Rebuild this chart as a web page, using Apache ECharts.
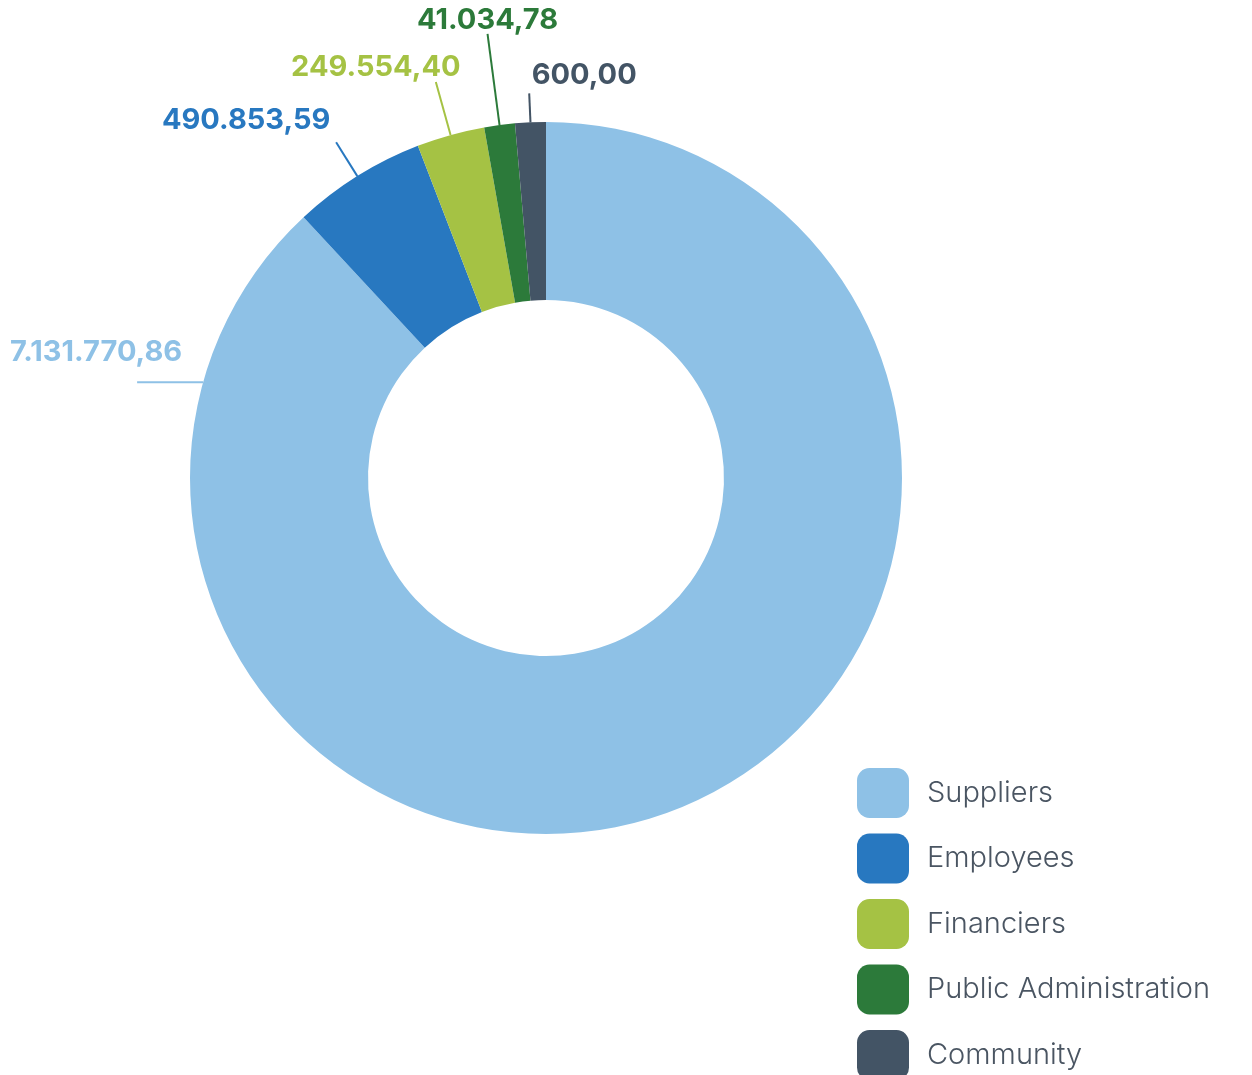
<!DOCTYPE html>
<html>
<head>
<meta charset="utf-8">
<title>Economic value distributed</title>
<script src="https://cdn.jsdelivr.net/npm/echarts@6/dist/echarts.min.js"></script>
<style>
  html, body { margin: 0; padding: 0; background: #fff; }
  #chart { width: 1252px; height: 1075px; }
</style>
</head>
<body>
<div id="chart"></div>
<script>
const categories = ['Suppliers', 'Employees', 'Financiers', 'Public Administration', 'Community'];
const amounts = [7131770.86, 490853.59, 249554.40, 41034.78, 600.00];
const colors = ['#8ec1e6', '#2878c0', '#a5c244', '#2c7a3a', '#435465'];

// pie geometry
const CX = 546, CY = 478, R_IN = 178, R_OUT = 356;

// label line lengths / label offsets, per slice
const lineLen = [66, 40, 55, 92, 29];
const labelDx = [-41, -90, -60, 0, 55];
const labelDy = [-30, -22, -15, -14, -18];

// 7131770.86 -> 7.131.770,86
const fmt = v => {
    const parts = v.toFixed(2).split('.');
    return parts[0].replace(/\B(?=(\d{3})+(?!\d))/g, '.') + ',' + parts[1];
};

const chart = echarts.init(document.getElementById('chart'), null, { renderer: 'canvas' });

chart.setOption({
    animation: false,
    color: colors,
    legend: {
        data: categories,
        orient: 'vertical',
        left: 857,
        top: 768,
        height: 400,
        padding: 0,
        itemWidth: 52,
        itemHeight: 50,
        itemGap: 15.5,
        icon: 'roundRect',
        selectedMode: false,
        textStyle: {
            fontFamily: 'Inter',
            fontWeight: 300,
            fontSize: 29,
            color: '#4a5562',
            padding: [0, 0, 0, 13]
        }
    },
    series: [{
        type: 'pie',
        center: [CX, CY],
        radius: [R_IN, R_OUT],
        startAngle: 90,
        clockwise: true,
        minAngle: 5,
        avoidLabelOverlap: false,
        emphasis: { disabled: true },
        itemStyle: { borderWidth: 0 },
        label: {
            show: true,
            position: 'outside',
            fontFamily: 'Inter',
            fontWeight: 'bold',
            fontSize: 29,
            formatter: p => fmt(p.value)
        },
        labelLine: {
            show: true,
            length: 20,
            length2: 0,
            smooth: false,
            lineStyle: { width: 2 }
        },
        labelLayout: function (p) {
            const i = p.dataIndex;
            let start, end;
            if (i === 0) {
                // suppliers label sits on the left side of the ring
                const a = -74.4 * Math.PI / 180;
                start = [CX + R_OUT * Math.sin(a), CY - R_OUT * Math.cos(a)];
                end = [start[0] - lineLen[0], start[1]];
            } else {
                const pts = p.labelLinePoints;
                if (!pts) return {};
                start = pts[0];
                const dx = pts[1][0] - pts[0][0], dy = pts[1][1] - pts[0][1];
                const d = Math.sqrt(dx * dx + dy * dy) || 1;
                end = [start[0] + dx / d * lineLen[i], start[1] + dy / d * lineLen[i]];
            }
            return {
                x: end[0] + labelDx[i],
                y: end[1] + labelDy[i],
                align: 'center',
                verticalAlign: 'middle',
                labelLinePoints: [start, end, end]
            };
        },
        data: categories.map((name, i) => ({
            name: name,
            value: amounts[i],
            label: { color: colors[i] },
            labelLine: { lineStyle: { color: colors[i] } }
        }))
    }]
});
</script>
</body>
</html>
